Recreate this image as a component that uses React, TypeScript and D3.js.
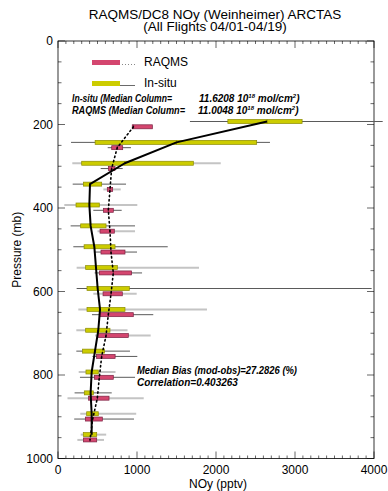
import React from 'react';
import * as d3 from 'd3';

const levels = [200, 250, 300, 350, 400, 450, 500, 550, 600, 650, 700, 750, 800, 850, 900, 950];

const insituMedian = [2646, 1500, 845, 405, 397, 413, 460, 481, 502, 532, 510, 468, 426, 413, 426, 426];
const insituQ1 = [2150, 470, 300, 321, 228, 287, 330, 350, 367, 367, 350, 312, 354, 333, 363, 320];
const insituQ3 = [3090, 2515, 1713, 553, 523, 608, 722, 751, 903, 848, 658, 590, 510, 447, 510, 490];
const insituLow = [1670, 165, 181, 186, 80, 160, 194, 236, 236, 257, 232, 232, 262, 210, 282, 287];
const insituHigh = [4110, 2683, 2060, 861, 1004, 975, 1389, 1785, 3970, 1886, 880, 911, 728, 680, 990, 610];
const insituWhiskerDark = [1, 1, 0, 1, 0, 1, 1, 0, 1, 0, 0, 1, 0, 1, 0, 0];

const raqmsMedian = [955, 750, 679, 658, 637, 658, 671, 700, 671, 637, 608, 553, 523, 498, 439, 405];
const raqmsQ1 = [940, 680, 637, 624, 574, 532, 544, 523, 570, 523, 505, 489, 460, 386, 346, 321];
const raqmsQ3 = [1194, 819, 722, 692, 700, 713, 848, 932, 814, 953, 890, 723, 700, 646, 561, 490];
const raqmsLow = [940, 629, 540, 574, 447, 500, 455, 464, 447, 430, 468, 436, 278, 120, 205, 245];
const raqmsHigh = [1194, 924, 819, 794, 806, 975, 1000, 1064, 996, 1206, 1173, 1004, 975, 1085, 962, 582];
const raqmsWhiskerDark = [1, 1, 1, 0, 1, 0, 1, 1, 0, 1, 0, 1, 1, 0, 1, 0];

const xTicks = [0, 1000, 2000, 3000, 4000];
const yTicks = [0, 200, 400, 600, 800, 1000];

const titleLine1 = 'RAQMS/DC8 NOy (Weinheimer) ARCTAS';
const titleLine2 = '(All Flights 04/01-04/19)';
const insituColumn = '11.6208';
const raqmsColumn = '11.0048';
const medianBias = '27.2826';
const correlation = '0.403263';

const FONT = '"Liberation Sans", Arial, Helvetica, sans-serif';
const YELLOW = '#cccc00';
const YELLOW_EDGE = '#8c8c00';
const PINK = '#d4466f';
const PINK_EDGE = '#7a2242';
const WDARK = '#5a5a5a';
const WLIGHT = '#c4c4c4';

export default function App() {
  const W = 388, H = 491;
  const x = d3.scaleLinear().domain([0, 4000]).range([58, 374]);
  const y = d3.scaleLinear().domain([0, 1000]).range([41, 458.5]);
  const yIn = (p: number) => y(p) - 3;
  const yRa = (p: number) => y(p) + 2.3;
  const [x0, x1] = x.range();
  const [y0, y1] = y.range();

  const xMinor = d3.range(0, 4001, 100);
  const yMinor = d3.range(0, 1001, 50);

  const insituLine = d3.line<number>().x((d, i) => x(insituMedian[i])).y((d) => yIn(d))(levels) || '';
  const raqmsLine = d3.line<number>().x((d, i) => x(raqmsMedian[i])).y((d) => yRa(d))(levels) || '';

  const boxH = 4;

  const renderSeries = (
    ys: (p: number) => number, lo: number[], hi: number[], q1: number[], q3: number[], med: number[],
    dark: number[], fill: string, edge: string, key: string
  ) => (
    <g key={key}>
      {levels.map((p, i) => (
        <line key={'w' + i} x1={x(lo[i])} x2={x(hi[i])} y1={ys(p)} y2={ys(p)}
          stroke={dark[i] ? WDARK : WLIGHT} strokeWidth={dark[i] ? 1 : 2} />
      ))}
      {levels.map((p, i) => (
        <rect key={'b' + i} x={x(q1[i])} y={ys(p) - boxH / 2} width={x(q3[i]) - x(q1[i])} height={boxH}
          fill={fill} stroke={edge} strokeWidth={0.7} />
      ))}
      {levels.map((p, i) => (
        <line key={'m' + i} x1={x(med[i])} x2={x(med[i])} y1={ys(p) - boxH / 2} y2={ys(p) + boxH / 2}
          stroke={edge} strokeWidth={1} />
      ))}
    </g>
  );

  const boldIt = { fontFamily: FONT, fontSize: 10, fontWeight: 'bold' as const, fontStyle: 'italic' as const, fill: '#000' };

  return (
    <svg width={W} height={H} style={{ position: 'absolute', left: 0, top: 0, background: '#fff' }}>
      <rect x={0} y={0} width={W} height={H} fill="#fff" />
      <text x={215} y={19} textAnchor="middle" fontFamily={FONT} fontSize={13.5}>{titleLine1}</text>
      <text x={215} y={31} textAnchor="middle" fontFamily={FONT} fontSize={13.5}>{titleLine2}</text>

      {/* frame */}
      <rect x={x0} y={y0} width={x1 - x0} height={y1 - y0} fill="none" stroke="#000" strokeWidth={0.8} />

      {/* ticks */}
      {xMinor.map((v) => {
        const major = v % 1000 === 0;
        const len = major ? 7 : 3;
        return (
          <g key={'xt' + v}>
            <line x1={x(v)} x2={x(v)} y1={y1} y2={y1 - len} stroke="#000" strokeWidth={0.6} />
            <line x1={x(v)} x2={x(v)} y1={y0} y2={y0 + len} stroke="#000" strokeWidth={0.6} />
          </g>
        );
      })}
      {yMinor.map((v) => {
        const major = v % 200 === 0;
        const len = major ? 7 : 3.5;
        return (
          <g key={'yt' + v}>
            <line x1={x0} x2={x0 + len} y1={y(v)} y2={y(v)} stroke="#000" strokeWidth={0.6} />
            <line x1={x1} x2={x1 - len} y1={y(v)} y2={y(v)} stroke="#000" strokeWidth={0.6} />
          </g>
        );
      })}
      {xTicks.map((v) => (
        <text key={'xl' + v} x={x(v)} y={474} textAnchor="middle" fontFamily={FONT} fontSize={12}>{v}</text>
      ))}
      {yTicks.map((v) => (
        <text key={'yl' + v} x={53} y={y(v) + 4.3} textAnchor="end" fontFamily={FONT} fontSize={12}>{v}</text>
      ))}
      <text x={218} y={488} textAnchor="middle" fontFamily={FONT} fontSize={12}>NOy (pptv)</text>
      <text transform={`translate(21,${(y0 + y1) / 2}) rotate(-90)`} textAnchor="middle" fontFamily={FONT} fontSize={12}>Pressure (mb)</text>

      {/* legend */}
      <rect x={92} y={60} width={28} height={5} fill={PINK} />
      <line x1={122} x2={135} y1={64.5} y2={64.5} stroke="#888" strokeWidth={1} strokeDasharray="1,2" />
      <text x={144} y={65.5} fontFamily={FONT} fontSize={12}>RAQMS</text>
      <rect x={92} y={81} width={28} height={5} fill={YELLOW} />
      <line x1={120} x2={135} y1={85.5} y2={85.5} stroke="#444" strokeWidth={0.8} />
      <text x={144} y={86.5} fontFamily={FONT} fontSize={12}>In-situ</text>

      <text x={72} y={102} {...boldIt} textLength={100} lengthAdjust="spacingAndGlyphs">In-situ (Median Column=</text>
      <text x={199} y={102} {...boldIt}>
        {insituColumn} 10<tspan dy={-4} fontSize={6}>18</tspan><tspan dy={4}> mol/cm</tspan><tspan dy={-4} fontSize={6}>2</tspan><tspan dy={4}>)</tspan>
      </text>
      <text x={72} y={113.5} {...boldIt} textLength={113} lengthAdjust="spacingAndGlyphs">RAQMS (Median Column=</text>
      <text x={198} y={113.5} {...boldIt}>
        {raqmsColumn} 10<tspan dy={-4} fontSize={6}>18</tspan><tspan dy={4}> mol/cm</tspan><tspan dy={-4} fontSize={6}>2</tspan><tspan dy={4}>)</tspan>
      </text>

      {renderSeries(yIn, insituLow, insituHigh, insituQ1, insituQ3, insituMedian, insituWhiskerDark, YELLOW, YELLOW_EDGE, 'in')}
      {renderSeries(yRa, raqmsLow, raqmsHigh, raqmsQ1, raqmsQ3, raqmsMedian, raqmsWhiskerDark, PINK, PINK_EDGE, 'ra')}

      <path d={insituLine} fill="none" stroke="#000" strokeWidth={2} strokeLinejoin="round" />
      <path d={raqmsLine} fill="none" stroke="#000" strokeWidth={1.6} strokeDasharray="1.4,3" strokeLinecap="round" />

      <text x={137} y={373.5} {...boldIt} textLength={160} lengthAdjust="spacingAndGlyphs">Median Bias (mod-obs)={medianBias} (%)</text>
      <text x={137} y={385.5} {...boldIt}>Correlation={correlation}</text>
    </svg>
  );
}
